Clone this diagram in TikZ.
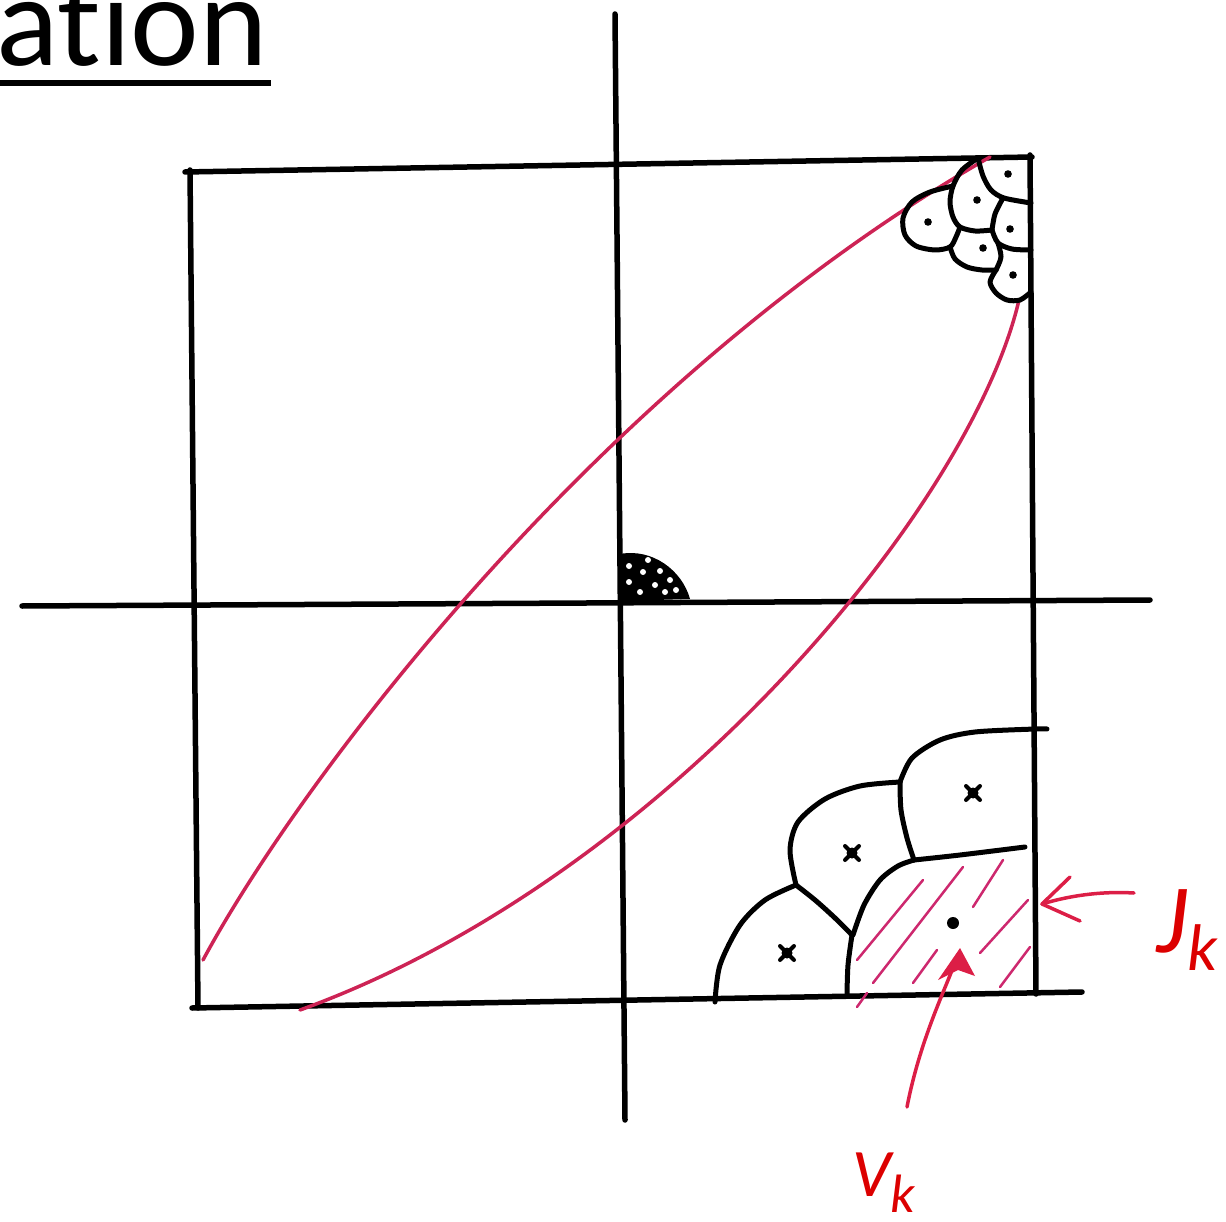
\documentclass[tikz,border=0pt]{standalone}
\usepackage{fontspec}
\setmainfont{Carlito}[Ligatures=NoCommon]
\definecolor{curvecol}{RGB}{205,35,85}
\definecolor{hatchcol}{RGB}{205,40,110}
\definecolor{arrcol}{RGB}{220,30,70}
\definecolor{labcol}{RGB}{220,0,0}
\begin{document}
\begin{tikzpicture}[x=1pt,y=-1pt,line cap=round,line join=round,
  ink/.style={line width=5.5pt,black},
  cell/.style={line width=5pt,black},
  redcurve/.style={line width=3.5pt,curvecol},
  hatchline/.style={line width=2.5pt,hatchcol},
  arr/.style={line width=3.5pt,arrcol},
  lab/.style={text=labcol,inner sep=0pt},
  xmark/.style={line width=4pt,black}]
\useasboundingbox (0,0) rectangle (1226,1222);
% title fragment
\node[anchor=base east,inner sep=0pt] (title) at (268,66) {\fontsize{130}{130}\selectfont at\kern0pt ion};
\draw[line width=6pt,line cap=butt] (0,83) -- (271,83);
% axes
\draw[ink] (615,14) -- (625,1120);
\draw[ink] (22,606) -- (1150,600);
% square
\draw[ink] (185,172) -- (1032,157);
\draw[ink] (190,170) -- (198,1008);
\draw[ink] (192,1008) -- (1082,992);
\draw[ink] (1030,155) -- (1036,994);
% red curves
\draw[redcurve] (203,960) .. controls (300,780) and (600,380) .. (990,157);
\draw[redcurve] (1019,300) .. controls (970,510) and (660,880) .. (300,1010);
% top-right cluster
\draw[cell] plot[smooth] coordinates {(978,158) (983,176) (991,190) (1004,198) (1031,203)};
\draw[cell] plot[smooth] coordinates {(978,158) (962,170) (953,186) (950,202) (953,217) (960,227) (975,231) (992,230)};
\draw[cell] plot[smooth] coordinates {(1003,198) (995,214) (992,230)};
\draw[cell] plot[smooth] coordinates {(992,230) (998,243) (1012,249) (1031,250)};
\draw[cell] plot[smooth] coordinates {(953,186) (930,192) (912,202) (903,218) (905,235) (916,246) (935,250) (950,247) (956,237) (960,227)};
\draw[cell] plot[smooth] coordinates {(950,247) (955,259) (967,267) (982,270) (996,270)};
\draw[cell] plot[smooth] coordinates {(998,243) (1001,257) (996,270)};
\draw[cell] plot[smooth] coordinates {(996,270) (990,282) (996,293) (1007,300) (1020,300) (1031,292)};
\foreach \p in {(1008,174),(977,200),(928,222),(1010,229),(983,248),(1013,275)}
  \fill \p circle (3.8);
% centre blob
\fill (620,601) -- (620,554) .. controls (652,548) and (682,570) .. (690,599) -- cycle;
\foreach \p in {(629,566),(629,582),(643,572),(655,585),(640,592),(665,592),(660,571),(676,590),(648,560),(670,580)}
  \fill[white] \p circle (3);
% bottom-right cells
\draw[cell] plot[smooth] coordinates {(715,1002) (720,965) (740,925) (765,900) (796,885)};
\draw[cell] plot[smooth] coordinates {(796,885) (815,900) (835,918) (852,935)};
\draw[cell] plot[smooth] coordinates {(852,935) (848,965) (847,995)};
\draw[cell] plot[smooth] coordinates {(796,885) (790,850) (798,822) (825,799) (860,786) (900,782)};
\draw[cell] plot[smooth] coordinates {(900,782) (901,810) (907,838) (914,860)};
\draw[cell] plot[smooth] coordinates {(900,782) (912,758) (940,740) (975,732) (1035,729) (1047,729)};
\draw[cell] plot[smooth] coordinates {(914,860) (960,855) (1025,847)};
\draw[cell] plot[smooth] coordinates {(914,860) (898,866) (880,880) (864,905) (853,935)};
% hatching
\draw[hatchline] (857,960) -- (923,880);
\draw[hatchline] (873,983) -- (963,867);
\draw[hatchline] (913,983) -- (937,950);
\draw[hatchline] (973,907) -- (1003,860);
\draw[hatchline] (980,953) -- (1028,900);
\draw[hatchline] (1000,987) -- (1030,947);
\draw[hatchline] (857,1007) -- (867,993);
% seeds
\foreach \p in {(787,953),(852,853),(973,793)} {
  \fill \p circle (5.5);
  \draw[xmark] \p ++(-7,-7) -- ++(14,14);
  \draw[xmark] \p ++(-7,7) -- ++(14,-14);
}
\fill (953,923) circle (6);
% labels and arrows
\node[lab,anchor=base west] (jk) at (1156,952) {\fontsize{98}{98}\selectfont\itshape J\raisebox{-18pt}{\fontsize{66}{66}\selectfont k}};
\node[lab,anchor=base west] (vk) at (852,1196) {\fontsize{68}{68}\selectfont\itshape V\raisebox{-16pt}{\fontsize{54}{54}\selectfont k}};
\coordinate (jtail) at (1134,893);
\coordinate (jtip) at (1042,904);
\draw[arr] (jtail) .. controls (1100,891) and (1068,896) .. (jtip);
\draw[arr] (1070,877) -- (jtip) -- (1080,921);
\coordinate (vtail) at (907,1107);
\coordinate (vtip) at (960,948);
\draw[arr] (vtail) .. controls (920,1040) and (945,990) .. (956,960);
\fill[arrcol] (vtip) -- (975,976) -- (958,970) -- (938,980) -- cycle;
\end{tikzpicture}
\end{document}
